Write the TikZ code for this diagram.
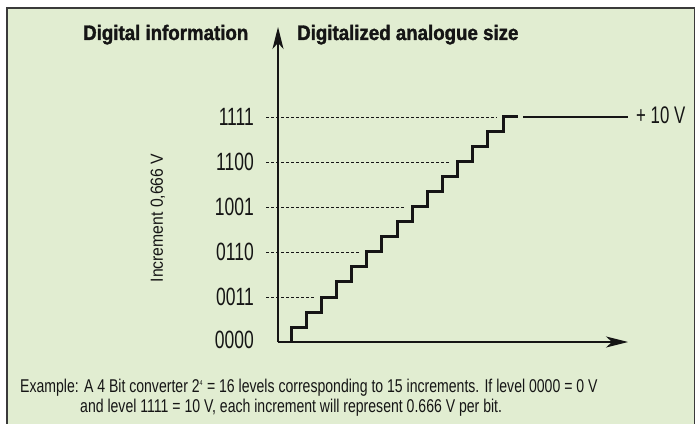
\documentclass[tikz,border=0pt]{standalone}
\usepackage{fontspec}
\setmainfont{Liberation Sans}
\newfontfamily\headfont{Liberation Sans}[FakeStretch=0.89,BoldFeatures={FakeBold=1.5}]
\newfontfamily\numfont{Liberation Sans}[FakeStretch=0.70]
\newfontfamily\sidefont{Liberation Sans}[FakeStretch=0.90]
\newfontfamily\bodyfont{Liberation Sans}[FakeStretch=0.76]
\usetikzlibrary{arrows.meta,positioning,calc}
\definecolor{ink}{HTML}{151515}
\definecolor{panel}{HTML}{E1EDD1}
\definecolor{rim}{HTML}{3A3A3A}

\begin{document}
\begin{tikzpicture}[x=1pt,y=1pt,text=ink,
  head/.style={anchor=base west,inner sep=0pt,font=\headfont\bfseries\fontsize{21}{24}\selectfont},
  lvl/.style={anchor=east,inner sep=0pt,font=\numfont\fontsize{25}{28}\selectfont},
  guide/.style={draw=ink,line width=0.8pt,dash pattern=on 3pt off 2pt},
  axis/.style={draw=ink,line width=1.3pt,-{Stealth[length=22pt,width=11pt,inset=6pt]}},
  stair/.style={draw=ink,line width=3pt,line join=miter},
  body/.style={anchor=base west,inner sep=0pt,font=\bodyfont\fontsize{18.5}{21}\selectfont}]
 \useasboundingbox (0,0) rectangle (695,423);
 \fill[white] (0,0) rectangle (695,423);
 \fill[panel] (7,-5) rectangle (694.3,415);
 \draw[rim,line width=1.4pt] (7,-5) -- (7,415) -- (694.3,415) -- (694.3,-5);
 % axes
 \coordinate (O) at (278,81);
 \coordinate (ytip) at (278,396);
 \coordinate (xtip) at (628,81);
 \draw[axis] (O) -- (ytip);
 \draw[axis] (O) -- (xtip);
 \node[head] (dig) at (83,383) {Digital information};
 \node[head] (ana) at (297,383) {Digitalized analogue size};
 % levels
 \node[lvl] (l0) at (254,83) {0000};
 \foreach \i/\code in {3/0011,6/0110,9/1001,12/1100,15/1111}{
   \node[lvl] (l\i) at (254,81+15*\i) {\code};
   \coordinate (g\i) at ($(291+15.15*\i-15.15-7,81+15*\i)$);
   \draw[guide] (266,81+15*\i) -- (g\i);
 }
 % staircase
 \draw[stair] (291,81) \foreach \i in {1,...,15}{ -- ++(0,15) -- ++(15.15,0) } coordinate (top);
 \coordinate (vs) at (523,306);
 \coordinate (ve) at (628,306);
 \draw[ink,line width=1.1pt] (vs) -- (ve);
 \node[lvl,anchor=west,font=\numfont\fontsize{24}{27}\selectfont] (ten) at (636,308) {+ 10 V};
 \node[rotate=90,inner sep=0pt,font=\sidefont\fontsize{17.5}{20}\selectfont] (inc) at (158,205) {Increment 0,666 V};
 % note
 \node[body] (n1) at (20,31) {Example: A 4 Bit converter 2\textsuperscript{\fontsize{7}{8}\selectfont 4} = 16 levels corresponding to 15 increments. If level 0000 = 0 V};
 \node[body] (n2) at (80,10.5) {and level 1111 = 10 V, each increment will represent 0.666 V per bit.};
\end{tikzpicture}
\end{document}
